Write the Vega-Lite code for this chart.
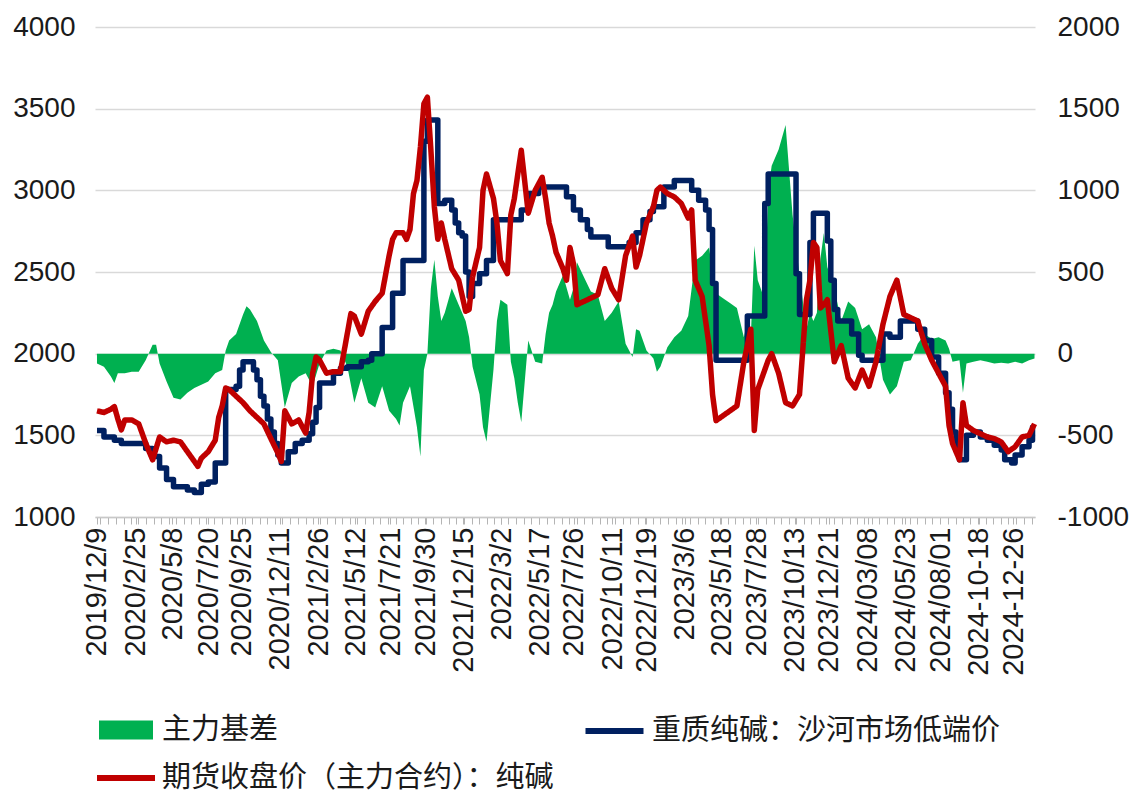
{
  "$schema": "https://vega.github.io/schema/vega-lite/v6.json",
  "width": 940,
  "height": 490,
  "autosize": {"type": "none"},
  "padding": {"left": 95, "top": 27, "right": 103, "bottom": 277},
  "background": "white",
  "config": {"view": {"stroke": null}, "font": "Liberation Sans"},
  "datasets": {
    "spot": [
      {"date":"2019-12-09","v":1530},{"date":"2019-12-23","v":1490},{"date":"2020-01-13","v":1470},{"date":"2020-01-27","v":1450},
      {"date":"2020-03-16","v":1420},{"date":"2020-03-30","v":1370},{"date":"2020-04-13","v":1300},{"date":"2020-04-27","v":1230},
      {"date":"2020-05-11","v":1185},{"date":"2020-06-08","v":1165},{"date":"2020-06-22","v":1150},{"date":"2020-07-06","v":1200},
      {"date":"2020-07-20","v":1215},{"date":"2020-08-03","v":1330},{"date":"2020-08-24","v":1780},{"date":"2020-09-14","v":1800},
      {"date":"2020-09-21","v":1900},{"date":"2020-09-28","v":1950},{"date":"2020-10-19","v":1900},{"date":"2020-10-26","v":1840},
      {"date":"2020-11-02","v":1740},{"date":"2020-11-09","v":1680},{"date":"2020-11-16","v":1600},{"date":"2020-11-23","v":1520},
      {"date":"2020-11-30","v":1450},{"date":"2020-12-07","v":1380},{"date":"2020-12-14","v":1330},{"date":"2020-12-28","v":1400},
      {"date":"2021-01-11","v":1450},{"date":"2021-01-25","v":1470},{"date":"2021-02-08","v":1510},{"date":"2021-02-15","v":1580},
      {"date":"2021-02-22","v":1670},{"date":"2021-03-01","v":1820},{"date":"2021-03-29","v":1880},{"date":"2021-04-12","v":1910},
      {"date":"2021-04-26","v":1920},{"date":"2021-05-24","v":1950},{"date":"2021-06-07","v":1960},{"date":"2021-06-14","v":2000},
      {"date":"2021-07-05","v":2160},{"date":"2021-07-26","v":2370},{"date":"2021-08-16","v":2570},{"date":"2021-09-27","v":3300},
      {"date":"2021-10-04","v":3430},{"date":"2021-10-25","v":2920},{"date":"2021-11-08","v":2940},{"date":"2021-11-22","v":2880},
      {"date":"2021-11-29","v":2800},{"date":"2021-12-06","v":2740},{"date":"2021-12-13","v":2720},{"date":"2021-12-20","v":2500},
      {"date":"2021-12-27","v":2350},{"date":"2022-01-03","v":2430},{"date":"2022-01-17","v":2490},{"date":"2022-01-31","v":2570},
      {"date":"2022-02-14","v":2820},{"date":"2022-04-11","v":2880},{"date":"2022-04-25","v":2980},{"date":"2022-05-16","v":3020},
      {"date":"2022-07-11","v":2960},{"date":"2022-07-25","v":2880},{"date":"2022-08-08","v":2820},{"date":"2022-08-22","v":2760},
      {"date":"2022-08-29","v":2715},{"date":"2022-10-03","v":2655},{"date":"2022-11-14","v":2680},{"date":"2022-11-28","v":2740},
      {"date":"2022-12-12","v":2820},{"date":"2022-12-26","v":2870},{"date":"2023-01-02","v":2900},{"date":"2023-01-23","v":3020},
      {"date":"2023-02-13","v":3060},{"date":"2023-03-20","v":3000},{"date":"2023-04-03","v":2940},{"date":"2023-04-17","v":2880},
      {"date":"2023-04-24","v":2760},{"date":"2023-05-01","v":2430},{"date":"2023-05-08","v":1960},{"date":"2023-07-10","v":2230},
      {"date":"2023-08-14","v":2920},{"date":"2023-08-21","v":3100},{"date":"2023-10-16","v":2490},{"date":"2023-10-23","v":2240},
      {"date":"2023-11-13","v":2680},{"date":"2023-11-20","v":2860},{"date":"2023-12-18","v":2690},{"date":"2023-12-25","v":2450},
      {"date":"2024-01-01","v":2270},{"date":"2024-01-08","v":2200},{"date":"2024-02-05","v":2120},{"date":"2024-02-19","v":1990},
      {"date":"2024-02-26","v":1960},{"date":"2024-04-08","v":2120},{"date":"2024-04-22","v":2100},{"date":"2024-05-13","v":2200},
      {"date":"2024-06-17","v":2150},{"date":"2024-07-01","v":2080},{"date":"2024-07-15","v":1980},{"date":"2024-07-29","v":1880},
      {"date":"2024-08-12","v":1760},{"date":"2024-08-19","v":1660},{"date":"2024-08-26","v":1520},{"date":"2024-09-02","v":1420},
      {"date":"2024-09-09","v":1350},{"date":"2024-09-23","v":1500},{"date":"2024-10-07","v":1520},{"date":"2024-10-21","v":1490},
      {"date":"2024-11-04","v":1470},{"date":"2024-11-18","v":1440},{"date":"2024-12-02","v":1410},{"date":"2024-12-09","v":1350},
      {"date":"2024-12-23","v":1330},{"date":"2024-12-30","v":1380},{"date":"2025-01-13","v":1430},{"date":"2025-01-27","v":1470},
      {"date":"2025-02-03","v":1550},{"date":"2025-02-07","v":1550}
    ],
    "futures": [
      {"date":"2019-12-09","v":1650},{"date":"2019-12-23","v":1640},{"date":"2020-01-06","v":1660},{"date":"2020-01-13","v":1676},
      {"date":"2020-01-20","v":1600},{"date":"2020-01-27","v":1533},{"date":"2020-02-03","v":1594},{"date":"2020-02-17","v":1594},
      {"date":"2020-03-02","v":1570},{"date":"2020-03-16","v":1453},{"date":"2020-03-23","v":1400},{"date":"2020-03-30","v":1350},
      {"date":"2020-04-13","v":1490},{"date":"2020-04-27","v":1460},{"date":"2020-05-11","v":1470},{"date":"2020-05-25","v":1460},
      {"date":"2020-06-08","v":1400},{"date":"2020-06-22","v":1340},{"date":"2020-06-29","v":1310},{"date":"2020-07-06","v":1360},
      {"date":"2020-07-20","v":1400},{"date":"2020-08-03","v":1470},{"date":"2020-08-10","v":1610},{"date":"2020-08-17","v":1680},
      {"date":"2020-08-24","v":1790},{"date":"2020-08-31","v":1780},{"date":"2020-09-14","v":1740},{"date":"2020-09-28","v":1700},
      {"date":"2020-10-12","v":1650},{"date":"2020-10-26","v":1610},{"date":"2020-11-09","v":1570},{"date":"2020-11-23","v":1480},
      {"date":"2020-12-07","v":1392},{"date":"2020-12-14","v":1340},{"date":"2020-12-21","v":1650},{"date":"2021-01-04","v":1570},
      {"date":"2021-01-18","v":1594},{"date":"2021-02-01","v":1514},{"date":"2021-02-08","v":1640},{"date":"2021-02-15","v":1880},
      {"date":"2021-02-22","v":1980},{"date":"2021-03-01","v":1960},{"date":"2021-03-15","v":1880},{"date":"2021-03-29","v":1890},
      {"date":"2021-04-12","v":1890},{"date":"2021-04-26","v":2126},{"date":"2021-05-03","v":2245},{"date":"2021-05-10","v":2230},
      {"date":"2021-05-24","v":2120},{"date":"2021-06-07","v":2260},{"date":"2021-06-21","v":2320},{"date":"2021-07-05","v":2370},
      {"date":"2021-07-19","v":2600},{"date":"2021-07-26","v":2700},{"date":"2021-08-02","v":2740},{"date":"2021-08-16","v":2740},
      {"date":"2021-08-23","v":2700},{"date":"2021-08-30","v":2760},{"date":"2021-09-06","v":2980},{"date":"2021-09-13","v":3060},
      {"date":"2021-09-20","v":3265},{"date":"2021-09-27","v":3530},{"date":"2021-10-04","v":3570},{"date":"2021-10-11","v":3250},
      {"date":"2021-10-18","v":2900},{"date":"2021-10-25","v":2700},{"date":"2021-11-01","v":2800},{"date":"2021-11-08","v":2700},
      {"date":"2021-11-22","v":2520},{"date":"2021-12-06","v":2450},{"date":"2021-12-20","v":2260},{"date":"2021-12-27","v":2270},
      {"date":"2022-01-03","v":2470},{"date":"2022-01-17","v":2650},{"date":"2022-01-24","v":3000},{"date":"2022-01-31","v":3100},
      {"date":"2022-02-14","v":2950},{"date":"2022-02-21","v":2800},{"date":"2022-02-28","v":2570},{"date":"2022-03-14","v":2490},
      {"date":"2022-03-21","v":2850},{"date":"2022-03-28","v":2950},{"date":"2022-04-04","v":3100},{"date":"2022-04-11","v":3245},
      {"date":"2022-04-25","v":2860},{"date":"2022-05-09","v":3000},{"date":"2022-05-23","v":3080},{"date":"2022-05-30","v":2950},
      {"date":"2022-06-06","v":2800},{"date":"2022-06-13","v":2720},{"date":"2022-06-20","v":2620},{"date":"2022-07-04","v":2520},
      {"date":"2022-07-11","v":2450},{"date":"2022-07-18","v":2650},{"date":"2022-07-25","v":2550},{"date":"2022-08-01","v":2300},
      {"date":"2022-08-15","v":2320},{"date":"2022-08-29","v":2340},{"date":"2022-09-12","v":2360},{"date":"2022-09-26","v":2520},
      {"date":"2022-10-10","v":2400},{"date":"2022-10-24","v":2330},{"date":"2022-11-07","v":2600},{"date":"2022-11-21","v":2720},
      {"date":"2022-11-28","v":2530},{"date":"2022-12-05","v":2600},{"date":"2022-12-19","v":2800},{"date":"2023-01-02","v":2900},
      {"date":"2023-01-09","v":3000},{"date":"2023-01-16","v":3020},{"date":"2023-01-30","v":2980},{"date":"2023-02-13","v":2960},
      {"date":"2023-02-27","v":2920},{"date":"2023-03-13","v":2830},{"date":"2023-03-20","v":2880},{"date":"2023-03-27","v":2450},
      {"date":"2023-04-10","v":2350},{"date":"2023-04-24","v":2050},{"date":"2023-05-01","v":1750},{"date":"2023-05-08","v":1590},
      {"date":"2023-05-22","v":1620},{"date":"2023-06-05","v":1650},{"date":"2023-06-19","v":1680},{"date":"2023-07-03","v":1950},
      {"date":"2023-07-10","v":2050},{"date":"2023-07-17","v":2150},{"date":"2023-07-24","v":1530},{"date":"2023-07-31","v":1780},
      {"date":"2023-08-14","v":1900},{"date":"2023-08-21","v":1960},{"date":"2023-08-28","v":2000},{"date":"2023-09-11","v":1880},
      {"date":"2023-09-25","v":1700},{"date":"2023-10-09","v":1680},{"date":"2023-10-23","v":1750},{"date":"2023-11-06","v":2330},
      {"date":"2023-11-13","v":2450},{"date":"2023-11-20","v":2680},{"date":"2023-11-27","v":2650},{"date":"2023-12-04","v":2280},
      {"date":"2023-12-11","v":2300},{"date":"2023-12-18","v":2330},{"date":"2024-01-01","v":1950},{"date":"2024-01-15","v":2050},
      {"date":"2024-01-29","v":1850},{"date":"2024-02-12","v":1790},{"date":"2024-02-26","v":1900},{"date":"2024-03-11","v":1800},
      {"date":"2024-03-25","v":1950},{"date":"2024-04-08","v":2180},{"date":"2024-04-22","v":2350},{"date":"2024-05-06","v":2450},
      {"date":"2024-05-20","v":2240},{"date":"2024-06-03","v":2220},{"date":"2024-06-17","v":2200},{"date":"2024-07-01","v":2060},
      {"date":"2024-07-15","v":1960},{"date":"2024-07-29","v":1880},{"date":"2024-08-12","v":1800},{"date":"2024-08-19","v":1560},
      {"date":"2024-08-26","v":1450},{"date":"2024-09-09","v":1350},{"date":"2024-09-16","v":1700},{"date":"2024-09-23","v":1560},
      {"date":"2024-10-07","v":1530},{"date":"2024-10-21","v":1510},{"date":"2024-11-04","v":1490},{"date":"2024-11-18","v":1480},
      {"date":"2024-12-02","v":1460},{"date":"2024-12-16","v":1400},{"date":"2024-12-30","v":1430},{"date":"2025-01-13","v":1490},
      {"date":"2025-01-27","v":1500},{"date":"2025-02-07","v":1570}
    ],
    "basis": [
      {"date":"2019-12-09","v":-60},{"date":"2019-12-23","v":-80},{"date":"2020-01-06","v":-140},{"date":"2020-01-13","v":-180},
      {"date":"2020-01-20","v":-120},{"date":"2020-02-03","v":-120},{"date":"2020-02-17","v":-110},{"date":"2020-03-02","v":-110},
      {"date":"2020-03-16","v":-40},{"date":"2020-03-30","v":55},{"date":"2020-04-06","v":55},{"date":"2020-04-13","v":-60},
      {"date":"2020-04-27","v":-170},{"date":"2020-05-11","v":-270},{"date":"2020-05-25","v":-280},{"date":"2020-06-08","v":-240},
      {"date":"2020-06-22","v":-210},{"date":"2020-07-06","v":-190},{"date":"2020-07-20","v":-170},{"date":"2020-08-03","v":-120},
      {"date":"2020-08-17","v":-100},{"date":"2020-08-24","v":20},{"date":"2020-08-31","v":80},{"date":"2020-09-14","v":120},
      {"date":"2020-09-28","v":240},{"date":"2020-10-05","v":290},{"date":"2020-10-12","v":270},{"date":"2020-10-26","v":200},
      {"date":"2020-11-09","v":80},{"date":"2020-11-23","v":10},{"date":"2020-12-07","v":-40},{"date":"2020-12-21","v":-330},
      {"date":"2021-01-04","v":-180},{"date":"2021-01-18","v":-140},{"date":"2021-02-01","v":-120},{"date":"2021-02-15","v":-200},
      {"date":"2021-03-01","v":-60},{"date":"2021-03-15","v":20},{"date":"2021-03-29","v":30},{"date":"2021-04-12","v":20},
      {"date":"2021-04-26","v":-80},{"date":"2021-05-10","v":-300},{"date":"2021-05-24","v":-150},{"date":"2021-06-07","v":-300},
      {"date":"2021-06-21","v":-330},{"date":"2021-07-05","v":-200},{"date":"2021-07-19","v":-350},{"date":"2021-08-02","v":-400},
      {"date":"2021-08-09","v":-440},{"date":"2021-08-16","v":-300},{"date":"2021-08-30","v":-200},{"date":"2021-09-13","v":-450},
      {"date":"2021-09-20","v":-630},{"date":"2021-09-27","v":-100},{"date":"2021-10-04","v":0},{"date":"2021-10-11","v":400},
      {"date":"2021-10-18","v":575},{"date":"2021-10-25","v":350},{"date":"2021-11-01","v":200},{"date":"2021-11-08","v":250},
      {"date":"2021-11-22","v":400},{"date":"2021-12-06","v":300},{"date":"2021-12-20","v":200},{"date":"2021-12-27","v":100},
      {"date":"2022-01-03","v":-80},{"date":"2022-01-17","v":-250},{"date":"2022-01-24","v":-450},{"date":"2022-01-31","v":-540},
      {"date":"2022-02-14","v":-100},{"date":"2022-02-21","v":200},{"date":"2022-02-28","v":330},{"date":"2022-03-14","v":300},
      {"date":"2022-03-21","v":-50},{"date":"2022-03-28","v":-150},{"date":"2022-04-04","v":-300},{"date":"2022-04-11","v":-420},
      {"date":"2022-04-25","v":80},{"date":"2022-05-09","v":-50},{"date":"2022-05-23","v":-60},{"date":"2022-05-30","v":120},
      {"date":"2022-06-06","v":250},{"date":"2022-06-13","v":300},{"date":"2022-06-20","v":380},{"date":"2022-07-04","v":480},
      {"date":"2022-07-18","v":330},{"date":"2022-07-25","v":400},{"date":"2022-08-01","v":560},{"date":"2022-08-15","v":470},
      {"date":"2022-08-29","v":380},{"date":"2022-09-12","v":360},{"date":"2022-09-26","v":200},{"date":"2022-10-10","v":250},
      {"date":"2022-10-24","v":320},{"date":"2022-11-07","v":60},{"date":"2022-11-21","v":-20},{"date":"2022-11-28","v":150},
      {"date":"2022-12-05","v":140},{"date":"2022-12-19","v":20},{"date":"2023-01-02","v":-30},{"date":"2023-01-09","v":-110},
      {"date":"2023-01-16","v":-80},{"date":"2023-01-30","v":40},{"date":"2023-02-13","v":100},{"date":"2023-02-27","v":140},
      {"date":"2023-03-13","v":230},{"date":"2023-03-27","v":570},{"date":"2023-04-10","v":600},{"date":"2023-04-24","v":650},
      {"date":"2023-05-01","v":500},{"date":"2023-05-08","v":370},{"date":"2023-05-22","v":340},{"date":"2023-06-05","v":310},
      {"date":"2023-06-19","v":280},{"date":"2023-07-03","v":100},{"date":"2023-07-10","v":200},{"date":"2023-07-17","v":100},
      {"date":"2023-07-24","v":660},{"date":"2023-07-31","v":450},{"date":"2023-08-14","v":330},{"date":"2023-08-21","v":1000},
      {"date":"2023-08-28","v":1150},{"date":"2023-09-11","v":1250},{"date":"2023-09-25","v":1400},{"date":"2023-10-09","v":850},
      {"date":"2023-10-23","v":480},{"date":"2023-11-06","v":150},{"date":"2023-11-13","v":250},{"date":"2023-11-20","v":200},
      {"date":"2023-11-27","v":250},{"date":"2023-12-04","v":580},{"date":"2023-12-11","v":739},{"date":"2023-12-18","v":530},
      {"date":"2024-01-01","v":400},{"date":"2024-01-15","v":200},{"date":"2024-01-29","v":320},{"date":"2024-02-12","v":280},
      {"date":"2024-02-26","v":150},{"date":"2024-03-11","v":180},{"date":"2024-03-25","v":100},{"date":"2024-04-08","v":-160},
      {"date":"2024-04-22","v":-250},{"date":"2024-05-06","v":-200},{"date":"2024-05-20","v":-50},{"date":"2024-06-03","v":-40},
      {"date":"2024-06-17","v":60},{"date":"2024-07-01","v":120},{"date":"2024-07-15","v":90},{"date":"2024-07-29","v":100},
      {"date":"2024-08-12","v":80},{"date":"2024-08-19","v":30},{"date":"2024-08-26","v":-50},{"date":"2024-09-09","v":-40},
      {"date":"2024-09-16","v":-240},{"date":"2024-09-23","v":-60},{"date":"2024-10-07","v":-50},{"date":"2024-10-21","v":-40},
      {"date":"2024-11-04","v":-50},{"date":"2024-11-18","v":-60},{"date":"2024-12-02","v":-55},{"date":"2024-12-16","v":-60},
      {"date":"2024-12-30","v":-50},{"date":"2025-01-13","v":-60},{"date":"2025-01-27","v":-40},{"date":"2025-02-07","v":-30}
    ]
  },
  "layer": [
    {
      "data": {"name": "basis"},
      "mark": {"type": "area", "opacity": 1},
      "encoding": {
        "x": {
          "field": "date", "type": "temporal",
          "scale": {"type": "utc", "domain": [{"year": 2019, "month": 12, "date": 5, "utc": true}, {"year": 2025, "month": 2, "date": 8, "utc": true}]},
          "axis": {
            "orient": "bottom", "title": null, "tickCount": 1000,
            "values": [
              {"year":2019,"month":12,"date":9,"utc":true},{"year":2019,"month":12,"date":16,"utc":true},
              {"year":2020,"month":1,"date":1,"utc":true},{"year":2020,"month":1,"date":16,"utc":true},{"year":2020,"month":2,"date":1,"utc":true},{"year":2020,"month":2,"date":16,"utc":true},{"year":2020,"month":2,"date":25,"utc":true},
              {"year":2020,"month":3,"date":1,"utc":true},{"year":2020,"month":3,"date":16,"utc":true},{"year":2020,"month":4,"date":1,"utc":true},{"year":2020,"month":4,"date":16,"utc":true},
              {"year":2020,"month":5,"date":1,"utc":true},{"year":2020,"month":5,"date":8,"utc":true},{"year":2020,"month":5,"date":16,"utc":true},{"year":2020,"month":6,"date":1,"utc":true},{"year":2020,"month":6,"date":16,"utc":true},
              {"year":2020,"month":7,"date":1,"utc":true},{"year":2020,"month":7,"date":16,"utc":true},{"year":2020,"month":7,"date":20,"utc":true},{"year":2020,"month":8,"date":1,"utc":true},{"year":2020,"month":8,"date":16,"utc":true},
              {"year":2020,"month":9,"date":1,"utc":true},{"year":2020,"month":9,"date":16,"utc":true},{"year":2020,"month":9,"date":25,"utc":true},{"year":2020,"month":10,"date":1,"utc":true},{"year":2020,"month":10,"date":16,"utc":true},
              {"year":2020,"month":11,"date":1,"utc":true},{"year":2020,"month":11,"date":16,"utc":true},{"year":2020,"month":12,"date":1,"utc":true},{"year":2020,"month":12,"date":11,"utc":true},{"year":2020,"month":12,"date":16,"utc":true},
              {"year":2021,"month":1,"date":1,"utc":true},{"year":2021,"month":1,"date":16,"utc":true},{"year":2021,"month":2,"date":1,"utc":true},{"year":2021,"month":2,"date":16,"utc":true},{"year":2021,"month":2,"date":26,"utc":true},
              {"year":2021,"month":3,"date":1,"utc":true},{"year":2021,"month":3,"date":16,"utc":true},{"year":2021,"month":4,"date":1,"utc":true},{"year":2021,"month":4,"date":16,"utc":true},
              {"year":2021,"month":5,"date":1,"utc":true},{"year":2021,"month":5,"date":12,"utc":true},{"year":2021,"month":5,"date":16,"utc":true},{"year":2021,"month":6,"date":1,"utc":true},{"year":2021,"month":6,"date":16,"utc":true},
              {"year":2021,"month":7,"date":1,"utc":true},{"year":2021,"month":7,"date":16,"utc":true},{"year":2021,"month":7,"date":21,"utc":true},{"year":2021,"month":8,"date":1,"utc":true},{"year":2021,"month":8,"date":16,"utc":true},
              {"year":2021,"month":9,"date":1,"utc":true},{"year":2021,"month":9,"date":16,"utc":true},{"year":2021,"month":9,"date":30,"utc":true},{"year":2021,"month":10,"date":1,"utc":true},{"year":2021,"month":10,"date":16,"utc":true},
              {"year":2021,"month":11,"date":1,"utc":true},{"year":2021,"month":11,"date":16,"utc":true},{"year":2021,"month":12,"date":1,"utc":true},{"year":2021,"month":12,"date":15,"utc":true},{"year":2021,"month":12,"date":16,"utc":true},
              {"year":2022,"month":1,"date":1,"utc":true},{"year":2022,"month":1,"date":16,"utc":true},{"year":2022,"month":2,"date":1,"utc":true},{"year":2022,"month":2,"date":16,"utc":true},
              {"year":2022,"month":3,"date":1,"utc":true},{"year":2022,"month":3,"date":2,"utc":true},{"year":2022,"month":3,"date":16,"utc":true},{"year":2022,"month":4,"date":1,"utc":true},{"year":2022,"month":4,"date":16,"utc":true},
              {"year":2022,"month":5,"date":1,"utc":true},{"year":2022,"month":5,"date":16,"utc":true},{"year":2022,"month":5,"date":17,"utc":true},{"year":2022,"month":6,"date":1,"utc":true},{"year":2022,"month":6,"date":16,"utc":true},
              {"year":2022,"month":7,"date":1,"utc":true},{"year":2022,"month":7,"date":16,"utc":true},{"year":2022,"month":7,"date":26,"utc":true},{"year":2022,"month":8,"date":1,"utc":true},{"year":2022,"month":8,"date":16,"utc":true},
              {"year":2022,"month":9,"date":1,"utc":true},{"year":2022,"month":9,"date":16,"utc":true},{"year":2022,"month":10,"date":1,"utc":true},{"year":2022,"month":10,"date":11,"utc":true},{"year":2022,"month":10,"date":16,"utc":true},
              {"year":2022,"month":11,"date":1,"utc":true},{"year":2022,"month":11,"date":16,"utc":true},{"year":2022,"month":12,"date":1,"utc":true},{"year":2022,"month":12,"date":16,"utc":true},{"year":2022,"month":12,"date":19,"utc":true},
              {"year":2023,"month":1,"date":1,"utc":true},{"year":2023,"month":1,"date":16,"utc":true},{"year":2023,"month":2,"date":1,"utc":true},{"year":2023,"month":2,"date":16,"utc":true},
              {"year":2023,"month":3,"date":1,"utc":true},{"year":2023,"month":3,"date":6,"utc":true},{"year":2023,"month":3,"date":16,"utc":true},{"year":2023,"month":4,"date":1,"utc":true},{"year":2023,"month":4,"date":16,"utc":true},
              {"year":2023,"month":5,"date":1,"utc":true},{"year":2023,"month":5,"date":16,"utc":true},{"year":2023,"month":5,"date":18,"utc":true},{"year":2023,"month":6,"date":1,"utc":true},{"year":2023,"month":6,"date":16,"utc":true},
              {"year":2023,"month":7,"date":1,"utc":true},{"year":2023,"month":7,"date":16,"utc":true},{"year":2023,"month":7,"date":28,"utc":true},{"year":2023,"month":8,"date":1,"utc":true},{"year":2023,"month":8,"date":16,"utc":true},
              {"year":2023,"month":9,"date":1,"utc":true},{"year":2023,"month":9,"date":16,"utc":true},{"year":2023,"month":10,"date":1,"utc":true},{"year":2023,"month":10,"date":13,"utc":true},{"year":2023,"month":10,"date":16,"utc":true},
              {"year":2023,"month":11,"date":1,"utc":true},{"year":2023,"month":11,"date":16,"utc":true},{"year":2023,"month":12,"date":1,"utc":true},{"year":2023,"month":12,"date":16,"utc":true},{"year":2023,"month":12,"date":21,"utc":true},
              {"year":2024,"month":1,"date":1,"utc":true},{"year":2024,"month":1,"date":16,"utc":true},{"year":2024,"month":2,"date":1,"utc":true},{"year":2024,"month":2,"date":16,"utc":true},
              {"year":2024,"month":3,"date":1,"utc":true},{"year":2024,"month":3,"date":8,"utc":true},{"year":2024,"month":3,"date":16,"utc":true},{"year":2024,"month":4,"date":1,"utc":true},{"year":2024,"month":4,"date":16,"utc":true},
              {"year":2024,"month":5,"date":1,"utc":true},{"year":2024,"month":5,"date":16,"utc":true},{"year":2024,"month":5,"date":23,"utc":true},{"year":2024,"month":6,"date":1,"utc":true},{"year":2024,"month":6,"date":16,"utc":true},
              {"year":2024,"month":7,"date":1,"utc":true},{"year":2024,"month":7,"date":16,"utc":true},{"year":2024,"month":8,"date":1,"utc":true},{"year":2024,"month":8,"date":16,"utc":true},
              {"year":2024,"month":9,"date":1,"utc":true},{"year":2024,"month":9,"date":16,"utc":true},{"year":2024,"month":10,"date":1,"utc":true},{"year":2024,"month":10,"date":16,"utc":true},{"year":2024,"month":10,"date":18,"utc":true},
              {"year":2024,"month":11,"date":1,"utc":true},{"year":2024,"month":11,"date":16,"utc":true},{"year":2024,"month":12,"date":1,"utc":true},{"year":2024,"month":12,"date":16,"utc":true},{"year":2024,"month":12,"date":26,"utc":true},
              {"year":2025,"month":1,"date":1,"utc":true},{"year":2025,"month":1,"date":16,"utc":true},{"year":2025,"month":2,"date":1,"utc":true}
            ],
            "labelExpr": "((utcdate(datum.value) == 1 || utcdate(datum.value) == 16) && !(utcyear(datum.value) == 2024 && utcmonth(datum.value) == 7 && utcdate(datum.value) == 1)) ? '' : (datum.value < utc(2024,0,1) ? utcFormat(datum.value, '%Y/%-m/%-d') : (datum.value < utc(2024,9,1) ? utcFormat(datum.value, '%Y/%m/%d') : utcFormat(datum.value, '%Y-%m-%d')))",
            "labelAngle": -90, "labelFont": "Liberation Sans", "labelFontSize": 29, "labelColor": "#1a1a1a",
            "labelPadding": 3, "ticks": true, "tickSize": 7, "tickWidth": 1, "tickColor": "#b4b4b4",
            "domain": true, "domainColor": "#c8c8c8", "domainWidth": 1.5,
            "grid": false, "labelOverlap": false, "labelBound": false, "labelFlush": false
          }
        },
        "y": {
          "field": "v", "type": "quantitative",
          "scale": {"domain": [-1000, 2000], "nice": false, "zero": false},
          "axis": {
            "orient": "right", "title": null, "values": [-1000, -500, 0, 500, 1000, 1500, 2000],
            "labelExpr": "datum.value + ''", "labelFont": "Liberation Sans", "labelFontSize": 28, "labelColor": "#1a1a1a",
            "labelPadding": 22, "ticks": false, "domain": false, "grid": false
          }
        },
        "y2": {"datum": 0},
        "fill": {
          "datum": "主力基差", "type": "nominal",
          "scale": {"range": ["#00B050"]},
          "legend": {
            "title": null, "orient": "none", "legendX": 11, "legendY": 683, "padding": 0,
            "symbolType": "M-1.35,-0.475H1.35V0.475H-1.35Z", "symbolSize": 1600, "symbolStrokeWidth": 0,
            "symbolOpacity": 1, "symbolOffset": 0, "labelOffset": 16,
            "labelFont": "Noto Sans CJK SC", "labelFontSize": 29, "labelColor": "#1a1a1a", "labelLimit": 1000
          }
        }
      }
    },
    {
      "data": {"name": "spot"},
      "mark": {"type": "line", "interpolate": "step-after", "strokeWidth": 5.5, "strokeJoin": "round"},
      "encoding": {
        "x": {"field": "date", "type": "temporal"},
        "y": {
          "field": "v", "type": "quantitative",
          "scale": {"domain": [1000, 4000], "nice": false, "zero": false},
          "axis": {
            "orient": "left", "title": null, "values": [1000, 1500, 2000, 2500, 3000, 3500, 4000],
            "labelExpr": "datum.value + ''", "labelFont": "Liberation Sans", "labelFontSize": 28, "labelColor": "#1a1a1a",
            "labelPadding": 20, "ticks": false, "domain": false, "grid": true, "gridColor": "#d9d9d9", "gridWidth": 1.5
          }
        },
        "stroke": {
          "datum": "重质纯碱：沙河市场低端价", "type": "nominal",
          "scale": {"range": ["#002060"]},
          "legend": {
            "title": null, "orient": "none", "legendX": 496.5, "legendY": 681, "padding": 0,
            "symbolType": "M-1.45,0H1.45", "symbolSize": 1600, "symbolStrokeWidth": 6, "symbolFillColor": "transparent",
            "symbolOpacity": 1, "symbolOffset": 0, "labelOffset": 14.5,
            "labelFont": "Noto Sans CJK SC", "labelFontSize": 29, "labelColor": "#1a1a1a", "labelLimit": 1000
          }
        }
      }
    },
    {
      "data": {"name": "futures"},
      "mark": {"type": "line", "interpolate": "linear", "strokeWidth": 5.5, "strokeJoin": "round", "color": "#C00000"},
      "encoding": {
        "x": {"field": "date", "type": "temporal"},
        "y": {
          "field": "v", "type": "quantitative",
          "scale": {"domain": [1000, 4000], "nice": false, "zero": false},
          "axis": null
        },
        "strokeDash": {
          "datum": "期货收盘价（主力合约）：纯碱", "type": "nominal",
          "scale": {"range": [[1, 0]]},
          "legend": {
            "title": null, "orient": "none", "legendX": 8, "legendY": 728, "padding": 0,
            "symbolType": "M-1.45,0H1.45", "symbolSize": 1600, "symbolStrokeWidth": 6,
            "symbolStrokeColor": "#C00000", "symbolFillColor": "transparent",
            "symbolOpacity": 1, "symbolOffset": 0, "labelOffset": 13,
            "labelFont": "Noto Sans CJK SC", "labelFontSize": 29, "labelColor": "#1a1a1a", "labelLimit": 1000
          }
        }
      }
    }
  ],
  "resolve": {"scale": {"y": "independent"}}
}
